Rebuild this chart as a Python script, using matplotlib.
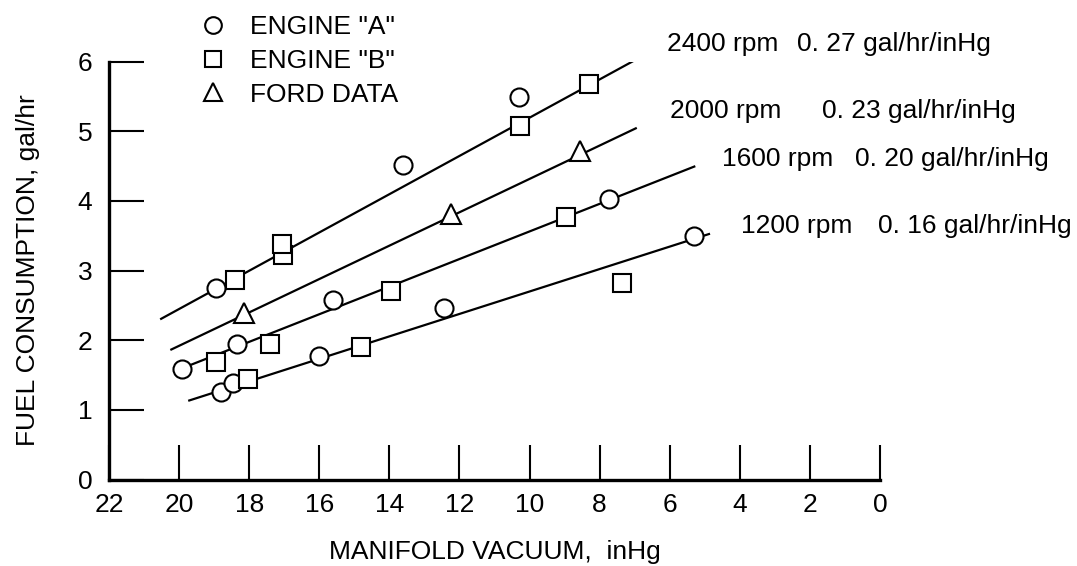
import matplotlib

matplotlib.use("Agg")
import matplotlib.pyplot as plt  # noqa: E402
from matplotlib.lines import Line2D  # noqa: E402

# engine "A" (circles)
a_vac = [18.94, 18.35, 19.91, 15.62, 12.44, 18.79, 18.47, 16.0, 13.62, 10.31, 7.72, 5.30]
a_fuel = [2.75, 1.95, 1.59, 2.58, 2.47, 1.26, 1.39, 1.77, 4.51, 5.49, 4.03, 3.49]

# engine "B" (squares)
b_vac = [18.40, 17.04, 17.06, 17.41, 18.96, 13.95, 7.35, 18.02, 14.80, 10.28, 8.30, 8.95]
b_fuel = [2.87, 3.22, 3.38, 1.95, 1.69, 2.71, 2.82, 1.44, 1.90, 5.07, 5.68, 3.77]

# ford data (triangles)
f_vac = [18.16, 12.23, 8.55]
f_fuel = [2.39, 3.81, 4.72]

# fitted lines, endpoints per speed
rpm_labels = ["2400 rpm", "2000 rpm", "1600 rpm", "1200 rpm"]
rate_labels = ["0. 27 gal/hr/inHg", "0. 23 gal/hr/inHg", "0. 20 gal/hr/inHg", "0. 16 gal/hr/inHg"]
line_vac = [(20.54, 6.82), (20.25, 6.94), (19.85, 5.27), (19.74, 4.85)]
line_fuel = [(2.30, 6.07), (1.86, 5.05), (1.61, 4.50), (1.13, 3.53)]

x_ticks = [22, 20, 18, 16, 14, 12, 10, 8, 6, 4, 2, 0]
y_ticks = [0, 1, 2, 3, 4, 5, 6]

plt.rcParams["font.family"] = ["Liberation Sans", "DejaVu Sans"]

fig = plt.figure(figsize=(10.77, 5.66), dpi=100)
ax = fig.add_axes([109 / 1077, 1 - 479.5 / 566, 771 / 1077, 417.8 / 566])

for xs, ys in zip(line_vac, line_fuel):
    ax.plot(xs, ys, color="black", lw=1.6, solid_capstyle="butt")

mk = dict(linestyle="none", markerfacecolor="white", markeredgecolor="black",
          markeredgewidth=1.5, clip_on=False)
ax.plot(a_vac, a_fuel, marker="o", markersize=13, **mk)
ax.plot(b_vac, b_fuel, marker="s", markersize=13, **mk)
ax.plot(f_vac, f_fuel, marker="^", markersize=14, **mk)

# labels next to the lines
rpm_x = [6.08, 5.98, 4.51, 3.97]
rate_x = [2.37, 1.65, 0.70, 0.06]
lab_y = [6.25, 5.29, 4.60, 3.64]
for r, q, xr, xq, yy in zip(rpm_labels, rate_labels, rpm_x, rate_x, lab_y):
    ax.text(xr, yy, r, fontsize=19, ha="left", va="center", clip_on=False)
    ax.text(xq, yy, q, fontsize=19, ha="left", va="center", clip_on=False)

ax.set_xlim(22, 0)
ax.set_ylim(0, 6)
ax.set_xticks(x_ticks)
ax.set_yticks(y_ticks)
ax.tick_params(direction="in", length=25, width=1.5, labelsize=19)
ax.tick_params(axis="x", pad=10)
ax.tick_params(axis="y", pad=12)
for side in ("top", "right"):
    ax.spines[side].set_visible(False)
for side in ("left", "bottom"):
    ax.spines[side].set_linewidth(2.4)

ax.set_xlabel("MANIFOLD VACUUM,  inHg", fontsize=19, labelpad=16)
ax.set_ylabel("FUEL CONSUMPTION, gal/hr", fontsize=19)
ax.yaxis.set_label_coords(-0.09, 0.5)

handles = [
    Line2D([], [], marker="o", markersize=12, **mk),
    Line2D([], [], marker="s", markersize=12, **mk),
    Line2D([], [], marker="^", markersize=13, **mk),
]
ax.legend(handles, ['ENGINE "A"', 'ENGINE "B"', "FORD DATA"], loc="upper left",
          bbox_to_anchor=(200 / 1077, 1 - 15 / 566), bbox_transform=fig.transFigure,
          frameon=False, fontsize=19, handlelength=1.0, handletextpad=0.9,
          labelspacing=0.37, borderpad=0, borderaxespad=0, numpoints=1)

fig.savefig("out.png", dpi=100)
